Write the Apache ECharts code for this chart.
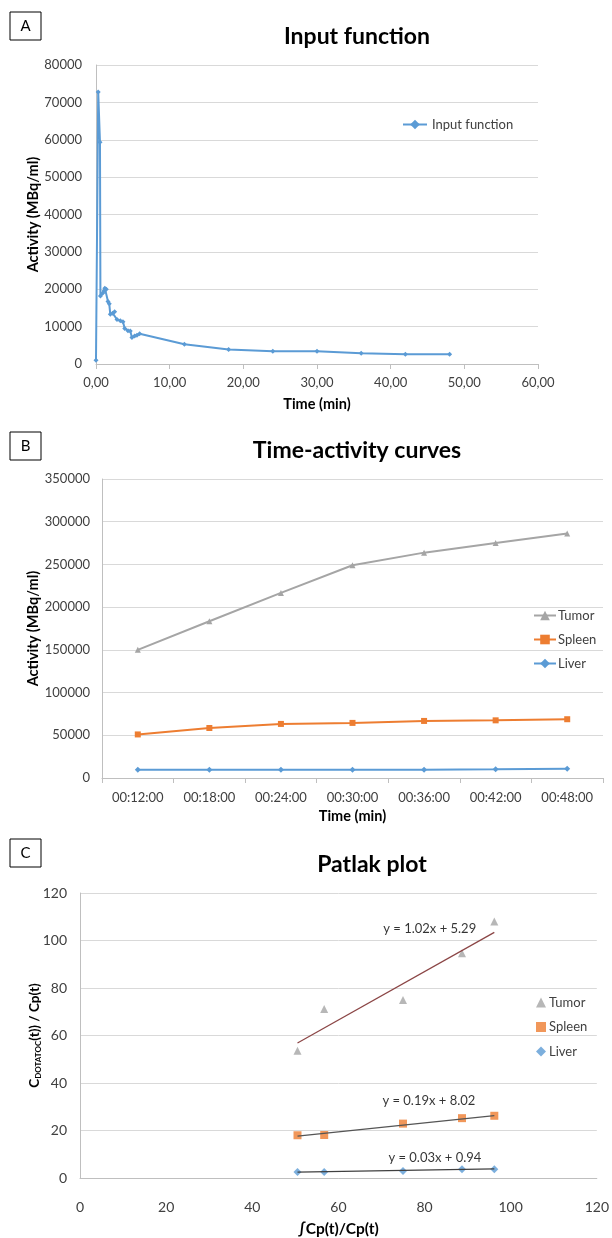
<!DOCTYPE html>
<html><head><meta charset="utf-8">
<script src="https://cdn.jsdelivr.net/npm/echarts@6/dist/echarts.min.js"></script>
<style>html,body{margin:0;padding:0;background:#fff}#c{width:612px;height:1238px}</style>
</head><body><div id="c"></div>
<script>
// Panel A: input function
const inputTime = [0, 0.3, 0.54, 0.6, 0.9, 1.08, 1.2, 1.4, 1.63, 1.8, 1.94, 2.26, 2.53, 2.85, 3.3, 3.66, 3.9, 4.34, 4.65, 4.88, 5.24, 5.56, 5.92, 12, 18, 24, 30, 36, 42, 48];
const inputActivity = [1000, 72800, 59300, 18200, 18900, 19500, 20300, 20000, 16700, 16100, 13300, 13600, 14000, 11900, 11600, 11300, 9500, 8900, 8800, 7100, 7500, 7700, 8100, 5300, 3900, 3400, 3400, 2900, 2600, 2600];
// Panel B: time-activity curves
const tacTimes = ['00:12:00', '00:18:00', '00:24:00', '00:30:00', '00:36:00', '00:42:00', '00:48:00'];
const tacTumor = [150000, 183500, 216700, 249000, 263800, 275100, 286200];
const tacSpleen = [51000, 58500, 63300, 64500, 66800, 67500, 68800];
const tacLiver = [9700, 9700, 9700, 9700, 9700, 10200, 10800];
// Panel C: Patlak plot
const patlakX = [50.5, 56.7, 75.0, 88.7, 96.2];
const patlakTumor = [53.6, 71.2, 74.9, 94.6, 108.0];
const patlakSpleen = [18.0, 18.1, 22.9, 25.2, 26.2];
const patlakLiver = [2.5, 2.5, 3.0, 3.7, 3.7];
const fitSlope = {Tumor: 1.02, Spleen: 0.19, Liver: 0.03};
const fitIntercept = {Tumor: 5.29, Spleen: 8.02, Liver: 0.94};
const fitLabelAnchor = {Tumor: [81.2, 104.9], Spleen: [81, 32.4], Liver: [82.4, 8.5]};

const FONT = 'Lato, "Open Sans", sans-serif';
const BLUE = '#5B9BD5', ORANGE = '#ED7D31', GRAY = '#A5A5A5';
const gridLine = {show: true, lineStyle: {color: '#d9d9d9', width: 1}};
const axisLine = {show: true, lineStyle: {color: '#bfbfbf', width: 1}};
const tickLbl = {color: '#404040', fontFamily: FONT, fontSize: 13};
const nameStyle = {color: '#000', fontFamily: FONT, fontSize: 14.5, fontWeight: 'bold'};
const plain = v => String(v);

function zip(a, b) { return a.map((v, i) => [v, b[i]]); }
function fitLine(name) {
  const x0 = Math.min(...patlakX), x1 = Math.max(...patlakX);
  return [[x0, fitSlope[name] * x0 + fitIntercept[name]], [x1, fitSlope[name] * x1 + fitIntercept[name]]];
}
function fitLabel(name) {
  return 'y = ' + fitSlope[name].toFixed(2) + 'x + ' + fitIntercept[name].toFixed(2);
}

function box(letter, x, y) {
  return [
    {type: 'rect', shape: {x: x, y: y, width: 31, height: 28}, style: {fill: '#fff', stroke: '#000', lineWidth: 1}},
    {type: 'text', x: x + 15.5, y: y + 14, style: {text: letter, font: '15px ' + FONT, fill: '#000', align: 'center', verticalAlign: 'middle'}}
  ];
}

const chart = echarts.init(document.getElementById('c'), null, {renderer: 'canvas'});
const titleStyle = {color: '#000', fontFamily: FONT, fontSize: 23, fontWeight: 'bold'};

chart.setOption({
  animation: false,
  backgroundColor: '#fff',
  graphic: [].concat(box('A', 10, 12), box('B', 10, 432), box('C', 10, 839)),
  title: [
    {text: 'Input function', left: 352, top: 20, textAlign: 'center', textStyle: titleStyle},
    {text: 'Time-activity curves', left: 352, top: 434, textAlign: 'center', textStyle: titleStyle},
    {text: 'Patlak plot', left: 367, top: 848, textAlign: 'center', textStyle: titleStyle}
  ],
  legend: [
    {data: ['Input function'], left: 397, top: 113, itemWidth: 24, itemHeight: 12, itemGap: 6,
     textStyle: {fontFamily: FONT, fontSize: 13, color: '#404040'}},
    {data: ['Tumor', 'Spleen', 'Liver'], orient: 'vertical', left: 528, top: 604, itemWidth: 22, itemHeight: 12, itemGap: 11,
     textStyle: {fontFamily: FONT, fontSize: 13, color: '#404040', padding: [0, 0, 0, -3]}},
    {data: ['Tumor ', 'Spleen ', 'Liver '], orient: 'vertical', left: 531, top: 991, itemWidth: 10, itemHeight: 10, itemGap: 11.5,
     textStyle: {fontFamily: FONT, fontSize: 13, color: '#404040', padding: [0, 0, 0, -2]}}
  ],
  grid: [
    {left: 96, width: 442, top: 65, height: 299},
    {left: 102, width: 501, top: 479, height: 299},
    {left: 80, width: 520, top: 893, height: 292}
  ],
  xAxis: [
    {gridIndex: 0, type: 'value', min: 0, max: 60, interval: 10,
     axisLine: axisLine, axisTick: {show: true, length: 5, lineStyle: {color: '#bfbfbf'}}, splitLine: {show: false},
     axisLabel: Object.assign({margin: 12, formatter: v => v.toFixed(2).replace('.', ',')}, tickLbl),
     name: 'Time (min)', nameLocation: 'middle', nameGap: 33, nameMoveOverlap: false, nameTextStyle: nameStyle},
    {gridIndex: 1, type: 'category', data: tacTimes, boundaryGap: true,
     axisLine: axisLine, axisTick: {show: true, length: 5, alignWithLabel: false, lineStyle: {color: '#bfbfbf'}},
     axisLabel: Object.assign({margin: 13}, tickLbl),
     name: 'Time (min)', nameLocation: 'middle', nameGap: 31, nameMoveOverlap: false, nameTextStyle: nameStyle},
    {gridIndex: 2, type: 'value', min: 0, max: 120, interval: 20,
     axisLine: axisLine, axisTick: {show: false}, splitLine: {show: false},
     axisLabel: Object.assign({}, tickLbl, {fontSize: 14, margin: 22}),
     name: '\u222BCp(t)/Cp(t)', nameLocation: 'middle', nameGap: 43, nameMoveOverlap: false,
     nameTextStyle: Object.assign({}, nameStyle, {fontSize: 15.5})}
  ],
  yAxis: [
    {gridIndex: 0, type: 'value', min: 0, max: 80000, interval: 10000,
     axisLine: axisLine, axisTick: {show: false}, splitLine: gridLine,
     axisLabel: Object.assign({margin: 14, formatter: plain}, tickLbl),
     name: 'Activity (MBq/ml)', nameLocation: 'middle', nameGap: 55, nameMoveOverlap: false, nameTextStyle: nameStyle},
    {gridIndex: 1, type: 'value', min: 0, max: 350000, interval: 50000,
     axisLine: axisLine, axisTick: {show: false}, splitLine: gridLine,
     axisLabel: Object.assign({margin: 12, formatter: plain}, tickLbl),
     name: 'Activity (MBq/ml)', nameLocation: 'middle', nameGap: 61, nameMoveOverlap: false, nameTextStyle: nameStyle},
    {gridIndex: 2, type: 'value', min: 0, max: 120, interval: 20,
     axisLine: axisLine, axisTick: {show: false}, splitLine: gridLine,
     axisLabel: Object.assign({}, tickLbl, {fontSize: 14, margin: 13}),
     name: '{b|C}{s|DOTATOC}{b|(t)) / Cp(t)}', nameLocation: 'middle', nameGap: 38, nameMoveOverlap: false,
     nameTextStyle: {rich: {
       b: {fontFamily: FONT, fontSize: 13.5, fontWeight: 'bold', color: '#000'},
       s: {fontFamily: FONT, fontSize: 8, fontWeight: 'bold', color: '#000', verticalAlign: 'bottom', padding: [6, 0, 0, 0]}
     }}}
  ],
  series: [
    {name: 'Input function', type: 'line', xAxisIndex: 0, yAxisIndex: 0, data: zip(inputTime, inputActivity),
     symbol: 'diamond', symbolSize: 5, showSymbol: true, color: BLUE, lineStyle: {width: 2, color: BLUE}, itemStyle: {color: BLUE}},
    {name: 'Liver', type: 'line', xAxisIndex: 1, yAxisIndex: 1, data: tacLiver,
     symbol: 'diamond', symbolSize: 6, color: BLUE, lineStyle: {width: 2, color: BLUE}, itemStyle: {color: BLUE}},
    {name: 'Spleen', type: 'line', xAxisIndex: 1, yAxisIndex: 1, data: tacSpleen,
     symbol: 'rect', symbolSize: 6, color: ORANGE, lineStyle: {width: 2, color: ORANGE}, itemStyle: {color: ORANGE}},
    {name: 'Tumor', type: 'line', xAxisIndex: 1, yAxisIndex: 1, data: tacTumor,
     symbol: 'triangle', symbolSize: 6, color: GRAY, lineStyle: {width: 2, color: GRAY}, itemStyle: {color: GRAY}},
    // Patlak trend lines
    {type: 'line', xAxisIndex: 2, yAxisIndex: 2, data: fitLine('Tumor'), symbol: 'none', silent: true,
     lineStyle: {width: 1.2, color: '#8B4545'}},
    {type: 'line', xAxisIndex: 2, yAxisIndex: 2, data: fitLine('Spleen'), symbol: 'none', silent: true,
     lineStyle: {width: 1.2, color: '#555555'}},
    {type: 'line', xAxisIndex: 2, yAxisIndex: 2, data: fitLine('Liver'), symbol: 'none', silent: true,
     lineStyle: {width: 1.2, color: '#404040'}},
    {name: 'Liver ', type: 'scatter', xAxisIndex: 2, yAxisIndex: 2, data: zip(patlakX, patlakLiver),
     symbol: 'diamond', symbolSize: 8, color: BLUE, itemStyle: {color: BLUE}},
    {name: 'Spleen ', type: 'scatter', xAxisIndex: 2, yAxisIndex: 2, data: zip(patlakX, patlakSpleen),
     symbol: 'rect', symbolSize: 8, color: ORANGE, itemStyle: {color: ORANGE}},
    {name: 'Tumor ', type: 'scatter', xAxisIndex: 2, yAxisIndex: 2, data: zip(patlakX, patlakTumor),
     symbol: 'triangle', symbolSize: 8, color: GRAY, itemStyle: {color: GRAY}},
    // trend line equations
    {type: 'scatter', xAxisIndex: 2, yAxisIndex: 2, silent: true, symbolSize: 0,
     data: ['Tumor', 'Spleen', 'Liver'].map(n => ({name: fitLabel(n), value: fitLabelAnchor[n]})),
     label: {show: true, position: 'inside', formatter: p => p.name, fontFamily: FONT, fontSize: 13, color: '#000'}}
  ]
});
</script></body></html>
